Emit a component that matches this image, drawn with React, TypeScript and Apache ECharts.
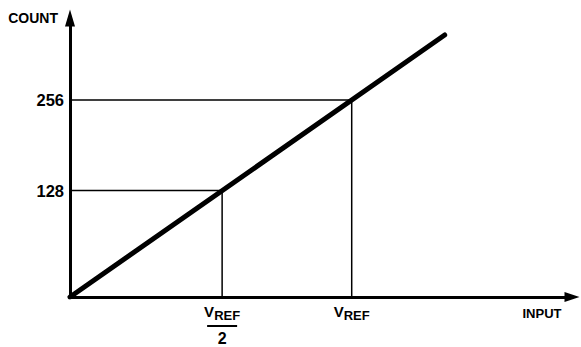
import React, { useEffect, useRef } from "react";
import * as echarts from "echarts";

// Tick positions as drawn (in units of V_REF on x, and of the 256 count on y)
const xTickValues = [0.54, 1];
const xTickNames = ["VREF/2", "VREF"];
const yTickValues = [0.54, 1];
const yTickLabels = ["128", "256"];
// Transfer line endpoints (same units)
const transferX = [0, 1.33];
const transferY = [0, 1.33];

const FONT = "'Liberation Sans', Arial, sans-serif";

export default function App() {
  const ref = useRef<HTMLDivElement>(null);
  useEffect(() => {
    if (!ref.current) return;
    const chart = echarts.init(ref.current, undefined, { renderer: "svg" });
    const near = (a: number, b: number) => Math.abs(a - b) < 1e-6;
    const guideSeries = xTickValues.map((xv, i) => ({
      type: "line",
      data: [
        [0, yTickValues[i]],
        [xv, yTickValues[i]],
        [xv, 0],
      ],
      symbol: "none",
      silent: true,
      z: 1,
      lineStyle: { color: "#000", width: 1.5 },
    }));
    chart.setOption({
      animation: false,
      backgroundColor: "#fff",
      grid: { left: 70, right: 9, top: 18.05, bottom: 50, containLabel: false },
      xAxis: {
        type: "value",
        min: 0,
        max: 1.782,
        name: "INPUT",
        nameLocation: "end",
        nameGap: -10.5,
        nameTextStyle: {
          fontFamily: FONT,
          fontWeight: "bold",
          fontSize: 13,
          color: "#000",
          align: "right",
          verticalAlign: "top",
          padding: [10, 0, 0, 0],
        },
        splitLine: { show: false },
        axisTick: { show: false },
        axisLine: {
          show: true,
          symbol: ["none", "triangle"],
          symbolSize: [10, 15],
          lineStyle: { color: "#000", width: 3 },
        },
        axisLabel: {
          customValues: xTickValues,
          margin: 7,
          formatter: (v: number) => {
            const idx = xTickValues.findIndex((t) => near(t, v));
            if (idx < 0) return "";
            if (xTickNames[idx] === "VREF/2")
              return "{v|V}{sub|REF}\n{bar|\u00a0}\n{two|2}";
            return "{v|V}{sub|REF}";
          },
          rich: {
            v: {
              fontFamily: FONT,
              fontWeight: "bold",
              fontSize: 15,
              color: "#000",
              lineHeight: 18,
              verticalAlign: "top",
            },
            sub: {
              fontFamily: FONT,
              fontWeight: "bold",
              fontSize: 13,
              color: "#000",
              lineHeight: 18,
              verticalAlign: "bottom",
            },
            bar: {
              fontSize: 2,
              width: 30,
              height: 2,
              lineHeight: 8,
              backgroundColor: "#000",
            },
            two: {
              fontFamily: FONT,
              fontWeight: "bold",
              fontSize: 16,
              color: "#000",
              lineHeight: 16,
            },
          },
        },
      },
      yAxis: {
        type: "value",
        min: 0,
        max: 1.416,
        name: "COUNT",
        nameLocation: "end",
        nameGap: 0,
        nameTextStyle: {
          fontFamily: FONT,
          fontWeight: "bold",
          fontSize: 14,
          color: "#000",
          align: "right",
          verticalAlign: "middle",
          padding: [0, 12, 0, 0],
        },
        splitLine: { show: false },
        axisTick: { show: false },
        axisLine: {
          show: true,
          symbol: ["none", "triangle"],
          symbolSize: [10, 17],
          lineStyle: { color: "#000", width: 3 },
        },
        axisLabel: {
          customValues: yTickValues,
          margin: 6,
          fontFamily: FONT,
          fontWeight: "bold",
          fontSize: 16.5,
          color: "#000",
          formatter: (v: number) => {
            const idx = yTickValues.findIndex((t) => near(t, v));
            return idx < 0 ? "" : yTickLabels[idx];
          },
        },
      },
      series: [
        ...guideSeries,
        {
          type: "line",
          data: transferX.map((x, i) => [x, transferY[i]]),
          symbol: "none",
          silent: true,
          z: 3,
          lineStyle: { color: "#000", width: 5, cap: "round" },
        },
      ],
    });
    return () => chart.dispose();
  }, []);
  return (
    <div
      ref={ref}
      style={{ position: "fixed", left: 0, top: 0, width: 581, height: 347, background: "#fff" }}
    />
  );
}
